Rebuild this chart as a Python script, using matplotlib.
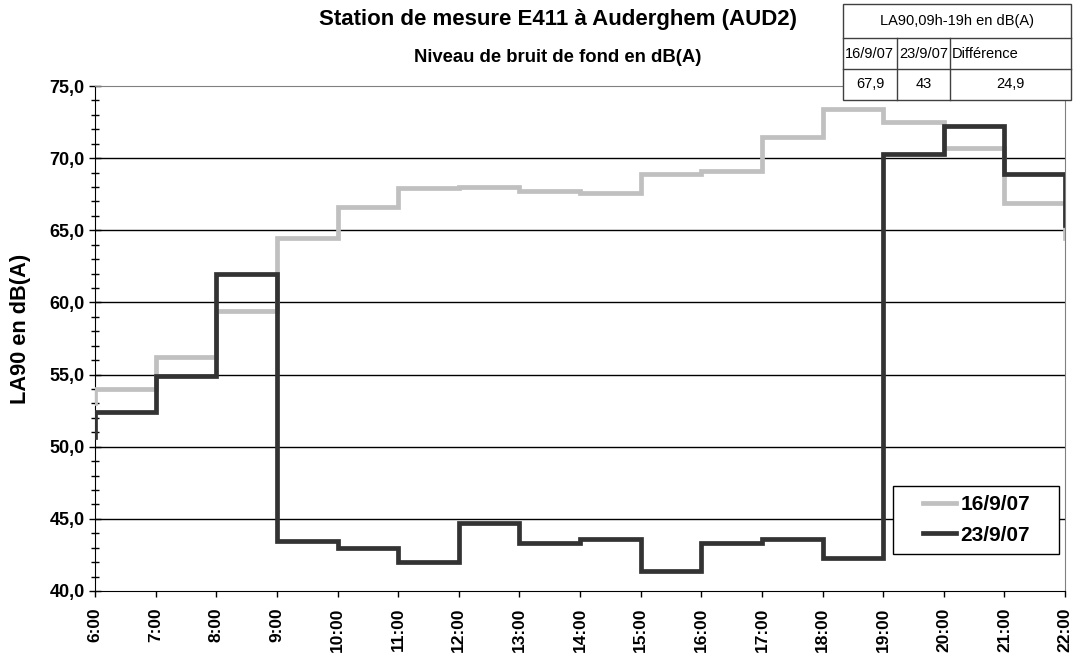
import matplotlib
matplotlib.use('Agg')
import matplotlib.pyplot as plt
from matplotlib.lines import Line2D
from matplotlib.patches import Rectangle
from matplotlib.ticker import MultipleLocator

plt.rcParams['font.family'] = ['Liberation Sans', 'DejaVu Sans']

# Heures (5:00 sert seulement a tracer la marche a 6:00)
hours = [5, 6, 7, 8, 9, 10, 11, 12, 13, 14, 15, 16, 17, 18, 19, 20, 21, 22]
la90_16 = [53.0, 54.0, 56.2, 59.4, 64.5, 66.6, 67.9, 68.0, 67.7, 67.6, 68.9, 69.1,
           71.5, 73.4, 72.5, 70.7, 66.9, 64.5]
la90_23 = [50.7, 52.4, 54.9, 62.0, 43.5, 43.0, 42.0, 44.7, 43.3, 43.6, 41.4, 43.3,
           43.6, 42.3, 70.3, 72.2, 68.9, 65.4]
tick_hours = list(range(6, 23))
tick_labels = ['%d:00' % h for h in tick_hours]

series_names = ['16/9/07', '23/9/07']
table_title = 'LA90,09h-19h en dB(A)'
table_head = ['16/9/07', '23/9/07', 'Différence']
table_vals = ['67,9', '43', '24,9']

W, H = 1079, 659
fig = plt.figure(figsize=(W / 100, H / 100), dpi=100)
ax = fig.add_axes([95 / W, 1 - 591 / H, 970 / W, 505 / H])

ax.step(hours, la90_16, where='post', color='#c0c0c0', lw=3.4,
        label=series_names[0], zorder=3, solid_joinstyle='miter')
ax.step(hours, la90_23, where='post', color='#333333', lw=3.4,
        label=series_names[1], zorder=4, solid_joinstyle='miter')

ax.set_xlim(6, 22)
ax.set_ylim(40, 75)
ax.set_xticks(tick_hours)
ax.set_xticklabels(tick_labels, rotation=90, fontsize=12.5, fontweight='bold')
ax.yaxis.set_major_locator(MultipleLocator(5))
ax.yaxis.set_minor_locator(MultipleLocator(1))
ax.set_yticks(range(40, 76, 5))
ax.set_yticklabels([('%.1f' % v).replace('.', ',') for v in range(40, 76, 5)],
                   fontsize=13, fontweight='bold')
ax.tick_params(axis='y', which='major', direction='inout', length=9, width=1, pad=3)
ax.tick_params(axis='y', which='minor', direction='inout', length=6, width=1)
ax.tick_params(axis='x', direction='out', length=4, width=1, pad=8)

for v in range(45, 75, 5):
    ax.axhline(v, color='black', lw=1, zorder=1)

ax.spines['top'].set_color('#808080')
ax.spines['right'].set_color('#808080')
ax.spines['left'].set_color('black')
ax.spines['bottom'].set_color('black')

ax.set_ylabel('LA90 en dB(A)', fontsize=15.7, fontweight='bold')
ax.yaxis.set_label_coords(-0.066, 0.52)

# legende : cadre dessine a part pour garder les marges d'Excel
ax.add_patch(Rectangle(((893 - 95) / 970, (591 - 554) / 505), 166 / 970, 68 / 505,
                       transform=ax.transAxes, facecolor='white', edgecolor='black',
                       lw=1, zorder=5))
leg = ax.legend(loc='center left', bbox_to_anchor=((923 - 95) / 970, (591 - 520) / 505),
                frameon=False, prop={'weight': 'bold', 'size': 15},
                handlelength=1.6, handletextpad=0.2, borderpad=0,
                labelspacing=0.55, borderaxespad=0)
leg.set_zorder(6)

fig.text(558 / W, 1 - 20 / H, 'Station de mesure E411 à Auderghem (AUD2)',
         ha='center', va='center', fontsize=16, fontweight='bold')
fig.text(558 / W, 1 - 57 / H, 'Niveau de bruit de fond en dB(A)',
         ha='center', va='center', fontsize=13.3, fontweight='bold')

# petit tableau en haut a droite
def px(x, y):
    return x / W, 1 - y / H

tl, tr, tt, tb = 843, 1071, 4, 100
r1, r2 = 38, 69
c1, c2 = 897, 950
tc = '#404040'
fig.add_artist(Rectangle(px(tl, tb), (tr - tl) / W, (tb - tt) / H,
                         transform=fig.transFigure, facecolor='white',
                         edgecolor=tc, lw=1, zorder=10))
for y in (r1, r2):
    fig.add_artist(Line2D([tl / W, tr / W], [1 - y / H] * 2,
                          transform=fig.transFigure, color=tc, lw=1, zorder=11))
for x in (c1, c2):
    fig.add_artist(Line2D([x / W] * 2, [1 - r1 / H, 1 - tb / H],
                          transform=fig.transFigure, color=tc, lw=1, zorder=11))

fig.text(*px((tl + tr) / 2, (tt + r1) / 2), table_title, ha='center', va='center',
         fontsize=10.5, zorder=12)
lefts = [tl, c1, c2]
rights = [c1, c2, tr]
for i in range(3):
    fig.text(*px(lefts[i] + 2, (r1 + r2) / 2), table_head[i], ha='left',
             va='center', fontsize=10.5, zorder=12)
    fig.text(*px((lefts[i] + rights[i]) / 2, (r2 + tb) / 2), table_vals[i],
             ha='center', va='center', fontsize=10.5, zorder=12)

fig.savefig('out.png', dpi=100)
